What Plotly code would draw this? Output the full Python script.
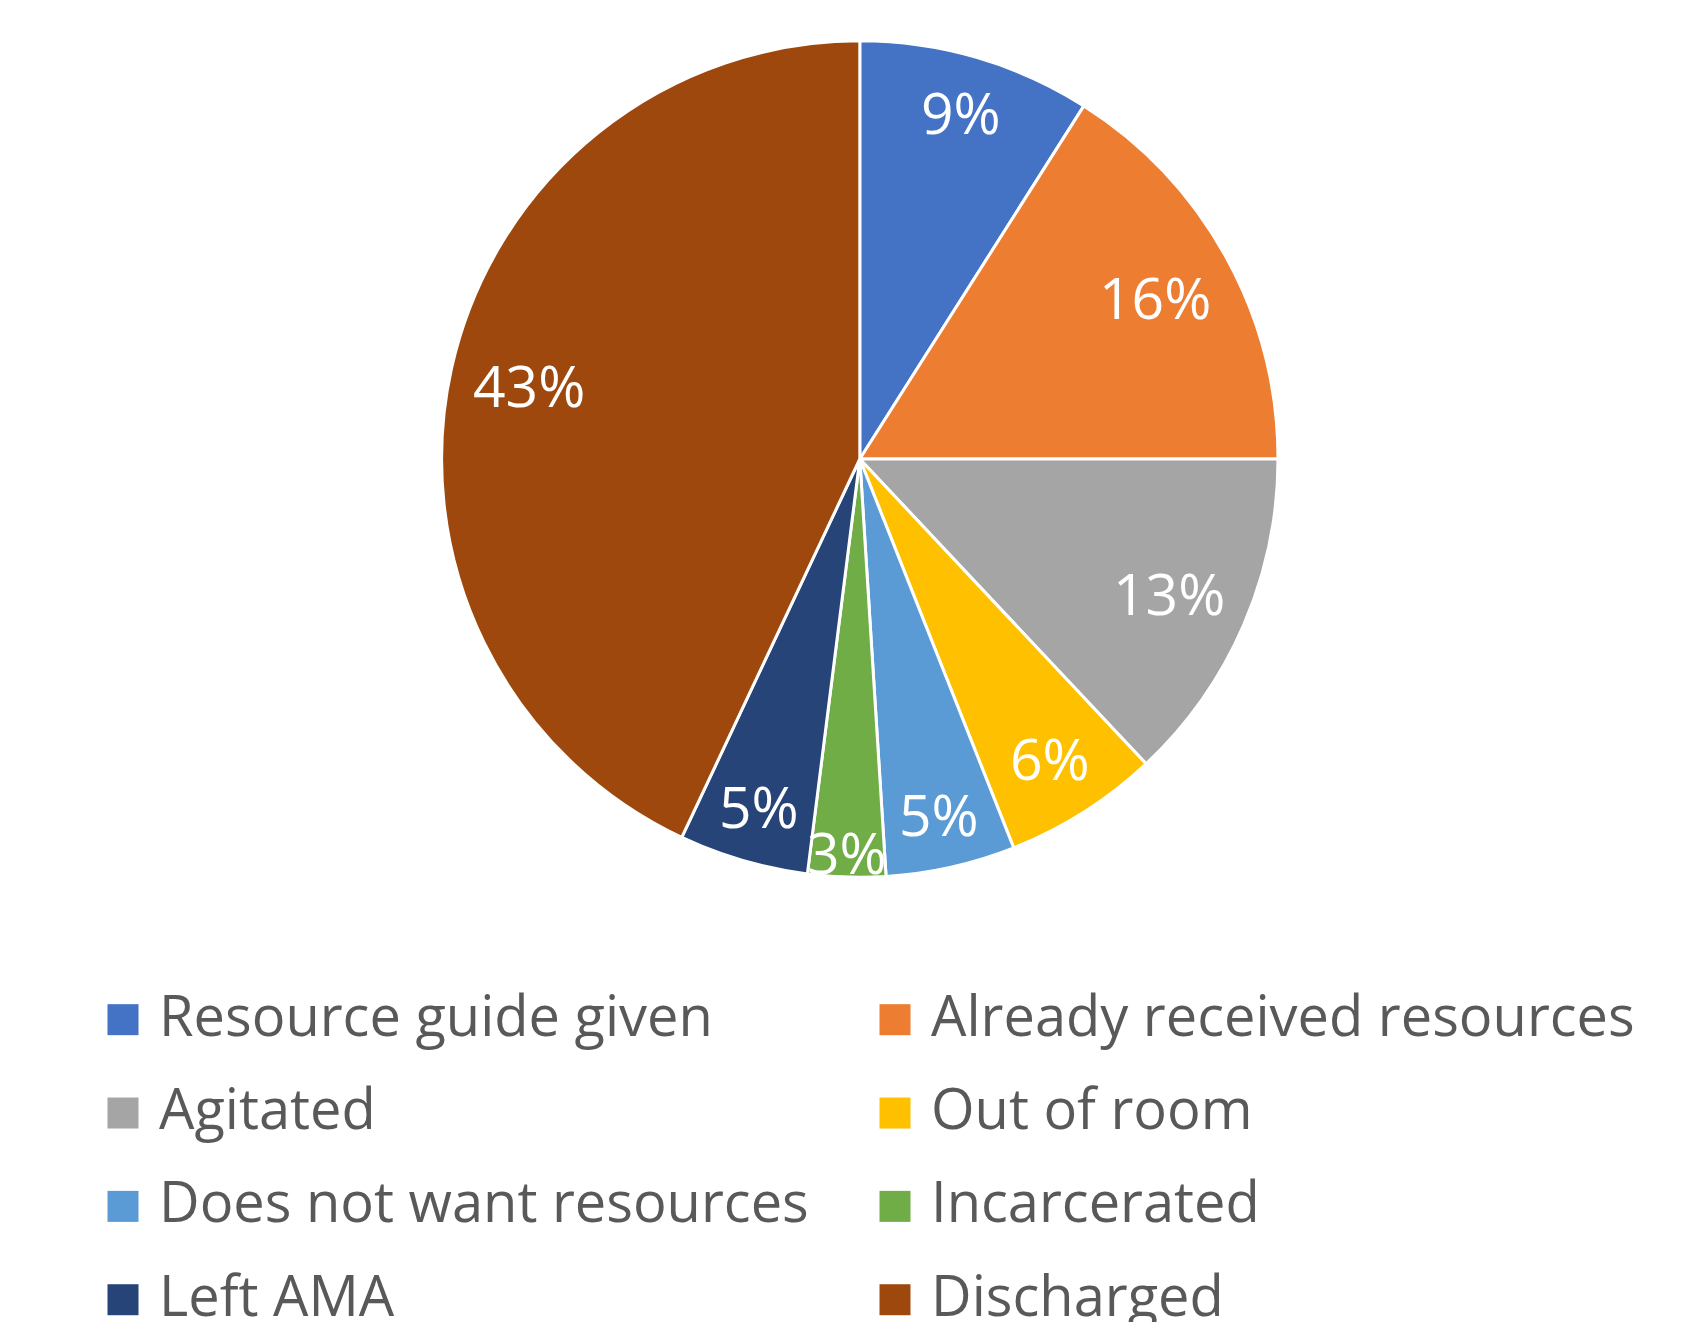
import math
import plotly.graph_objects as go

# Reasons recorded for each case (percent of total)
categories = [
    "Resource guide given",
    "Already received resources",
    "Agitated",
    "Out of room",
    "Does not want resources",
    "Incarcerated",
    "Left AMA",
    "Discharged",
]
percentages = [9, 16, 13, 6, 5, 3, 5, 43]
slice_colors = [
    "#4472C4", "#ED7D31", "#A5A5A5", "#FFC000",
    "#5B9BD5", "#70AD47", "#264478", "#9E480E",
]

W, H = 1704, 1322
FONT = "Open Sans"
LABEL_SIZE = 57
LEGEND_TEXT_SIZE = 56

# Pie placement (pixels)
cx, cy, R = 859.8, 459.0, 418.2
dom_x = [(cx - R) / W, (cx + R) / W]
dom_y = [1 - (cy + R) / H, 1 - (cy - R) / H]

fig = go.Figure(
    go.Pie(
        labels=[f'<span style="font-size:{LEGEND_TEXT_SIZE}px">{c}</span>' for c in categories],
        values=percentages,
        sort=False,
        direction="clockwise",
        rotation=0,
        marker=dict(colors=slice_colors, line=dict(color="white", width=3)),
        textinfo="none",
        hoverinfo="percent",
        domain=dict(x=dom_x, y=dom_y),
    )
)

# Percent labels: pushed out along each slice's mid angle until the
# label box sits just inside the rim; very thin slices get pushed further.
total = sum(percentages)
acc = 0.0
for v in percentages:
    theta = 2 * math.pi * (acc + v / 2) / total
    acc += v
    text = f"{v}%"
    half_w = 0.5 * LABEL_SIZE * (0.572 * (len(text) - 1) + 0.84)
    half_h = 0.5 * LABEL_SIZE
    if v >= 4:
        reach = half_w * abs(math.sin(theta)) + half_h * abs(math.cos(theta))
        d = R - 18 - reach
    else:
        d = 0.94 * R
    px = cx + d * math.sin(theta)
    py = cy - d * math.cos(theta)
    fig.add_annotation(
        x=px / W, y=1 - py / H, xref="paper", yref="paper",
        text=text, showarrow=False,
        font=dict(family=FONT, size=LABEL_SIZE, color="white"),
        xanchor="center", yanchor="middle",
    )

fig.update_layout(
    width=W, height=H,
    margin=dict(l=0, r=0, t=0, b=0, autoexpand=False),
    paper_bgcolor="white", plot_bgcolor="white",
    showlegend=True,
    legend=dict(
        orientation="h",
        x=99 / W, xanchor="left",
        y=1 - 957 / H, yanchor="top",
        itemwidth=50,
        entrywidth=707, entrywidthmode="pixels",
        font=dict(family=FONT, size=69.5, color="#595959"),
        maxheight=2000,
        traceorder="normal",
    ),
)

# Larger square swatches in the legend
post_js = """
var gd = document.getElementById('{plot_id}');
function sizeLegendSwatches() {
  gd.querySelectorAll('path.legendpie').forEach(function (p) {
    p.setAttribute('d', 'M15.5,15.5H-15.5V-15.5H15.5Z');
    p.setAttribute('transform', 'translate(24,11)');
    p.style.strokeWidth = '0px';
  });
}
sizeLegendSwatches();
gd.on('plotly_afterplot', sizeLegendSwatches);
"""

fig.write_html("out.html", post_script=post_js)
